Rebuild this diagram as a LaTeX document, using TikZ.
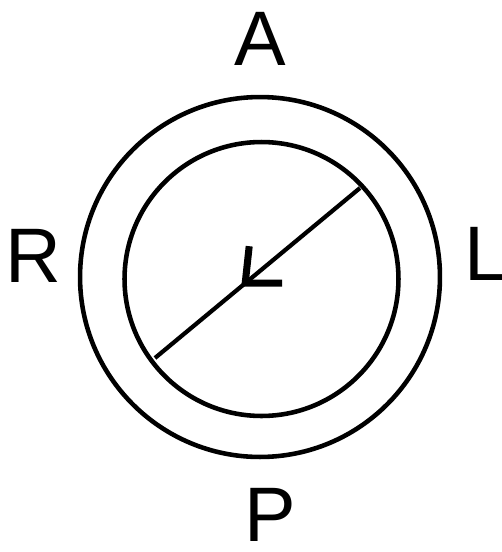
\documentclass[tikz,border=0pt]{standalone}
\usepackage{fontspec}
\setmainfont{Liberation Sans}
\usetikzlibrary{positioning}

\begin{document}
\begin{tikzpicture}[
    x=0.02cm, y=-0.02cm,
    %% ── Ring styles ─────────────────────────────────────────────────────
    ring/.style={
        draw, circle,
        line width=2.6pt,
        inner sep=0pt,
    },
    %% ── Line styles ─────────────────────────────────────────────────────
    diam/.style={line width=2.4pt},
    halftip/.style={line width=4pt, line cap=butt, line join=miter},
    %% ── Label style ─────────────────────────────────────────────────────
    side/.style={font=\fontsize{44}{52}\selectfont, inner sep=0pt},
]
\useasboundingbox (0,0) rectangle (502,552);

%%─────────────────────────────────────────────────────────────────────────
%% Rings
%%─────────────────────────────────────────────────────────────────────────
\node[ring, minimum size=7.2cm]  (outer) at (260,277) {};
\node[ring, minimum size=5.48cm] (inner) at (261.5,279) {};

%%─────────────────────────────────────────────────────────────────────────
%% Side letters
%%─────────────────────────────────────────────────────────────────────────
\node[side] (ant)  at (260,39)  {A};
\node[side] (post) at (270,515) {P};
\node[side] (rgt)  at (33,256)  {R};
\node[side] (lft)  at (486,254) {L};

%%─────────────────────────────────────────────────────────────────────────
%% Diameter with half arrow
%%─────────────────────────────────────────────────────────────────────────
\draw[diam] (inner.center) ++(98.5,-91) coordinate (ne)
            (inner.center) ++(-106.5,79) coordinate (sw);
\draw[diam] (ne) -- (sw) coordinate[pos=0.56] (vtx);

%% vertex ── short up-stroke and short right-stroke
\draw[halftip] (vtx) ++(4,-37) -- (vtx) -- ++(37,0);

\end{tikzpicture}
\end{document}
